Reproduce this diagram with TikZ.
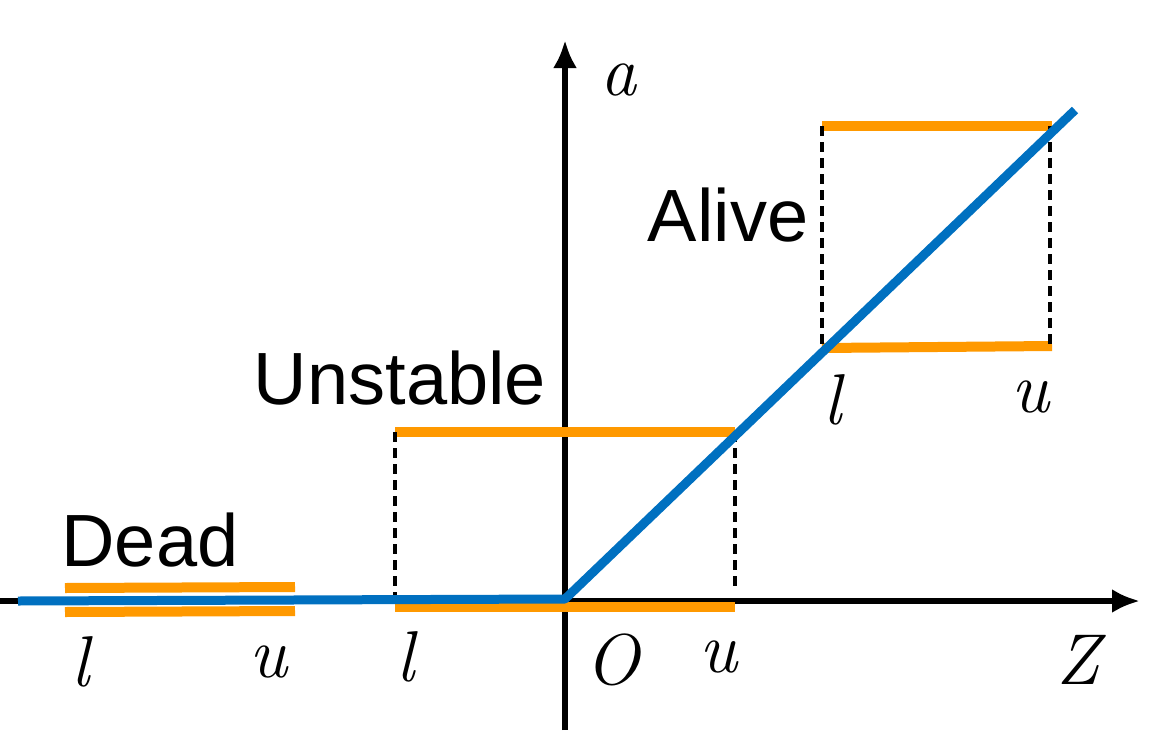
\documentclass[tikz,border=0pt]{standalone}
\usepackage{fontspec}
\setsansfont{Liberation Sans}
\usetikzlibrary{arrows.meta}
\definecolor{myblue}{HTML}{0070C0}
\definecolor{myorange}{HTML}{FF9900}
\begin{document}
\begin{tikzpicture}[x=1pt,y=-1pt,
  axis/.style={line width=6.5pt,-{Latex[length=28pt,width=24pt]}},
  bar/.style={line width=10pt,myorange},
  guide/.style={line width=3.5pt,dash pattern=on 10pt off 6pt},
  word/.style={font=\sffamily\fontsize{74}{80}\selectfont,inner sep=0pt},
  mlab/.style={font=\rmfamily\itshape\fontsize{72}{80}\selectfont,inner sep=0pt}]
\useasboundingbox (0,0) rectangle (1165,734);
\draw[axis] (0,601) -- (1140,601);
\draw[axis] (565,730) -- (565,40);
% orange bars
\draw[bar] (65,588) -- (295,587);
\draw[bar] (65,612) -- (295,611);
\draw[bar] (395,432) -- (735,432);
\draw[bar] (395,607) -- (735,607);
\draw[bar] (822,126) -- (1052,126);
\draw[bar] (822,348) -- (1052,346);
% dashed guides
\draw[guide] (395,432) -- (395,603);
\draw[guide] (735,432) -- (735,590);
\draw[guide] (822,126) -- (822,348);
\draw[guide] (1050,126) -- (1050,346);
% blue relu
\coordinate (s) at (18,601);
\coordinate (o) at (565,599);
\coordinate (e) at (1075,110);
\draw[myblue,line width=9pt,line join=round] (s) -- (o) -- (e);
% labels
\node[mlab] (la) at (618,80) {a};
\node[mlab] (lz) at (1078,660) {Z};
\node[mlab] (lo) at (612,660) {O};
\node[mlab] (l1) at (80,662) {l};
\node[mlab] (u1) at (268,662) {u};
\node[mlab] (l2) at (405,657) {l};
\node[mlab] (u2) at (718,657) {u};
\node[mlab] (l3) at (832,400) {l};
\node[mlab] (u3) at (1030,397) {u};
\node[word] (dead) at (150,540) {Dead};
\node[word] (unst) at (400,378) {Unstable};
\node[word] (alive) at (728,215) {Alive};
\end{tikzpicture}
\end{document}
